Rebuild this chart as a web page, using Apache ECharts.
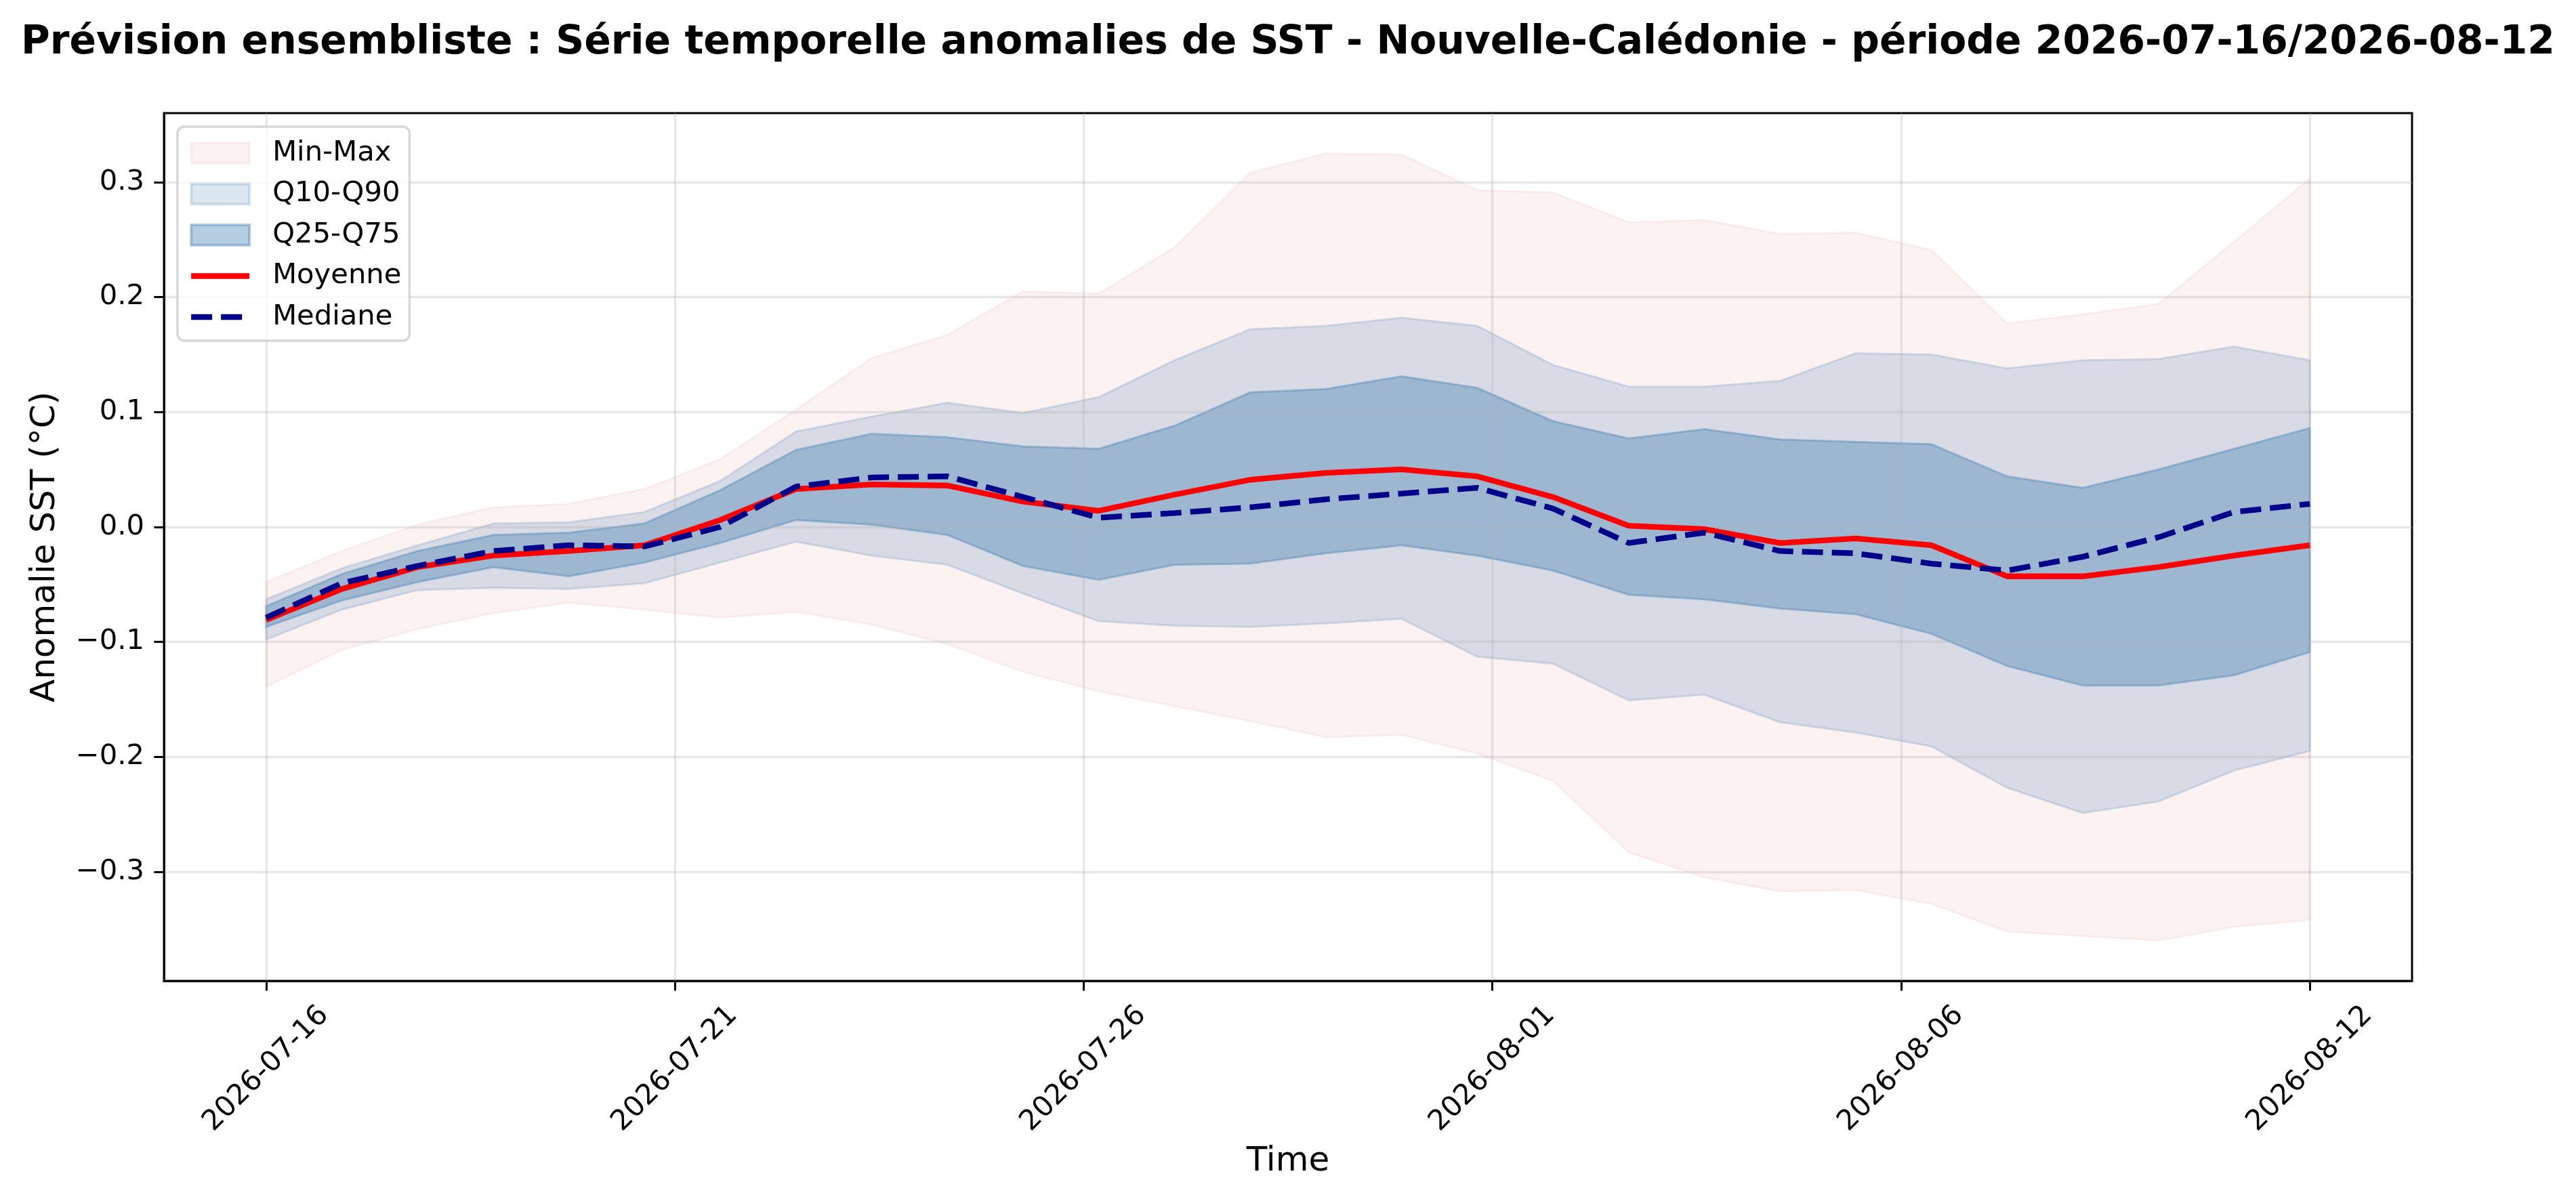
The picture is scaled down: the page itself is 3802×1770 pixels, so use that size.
<!DOCTYPE html>
<html lang="fr">
<head>
<meta charset="UTF-8">
<title>Prévision ensembliste SST</title>
<style>
  html, body { margin: 0; padding: 0; background: #fff; }
  #main { width: 3802px; height: 1770px; }
</style>
</head>
<body>
<div id="main"></div>
<script src="https://cdn.jsdelivr.net/npm/echarts@6/dist/echarts.min.js"></script>
<script>
// une valeur par jour, du 2026-07-16 (jour 0) au 2026-08-12 (jour 27)
var moyenne = [-0.081,-0.054,-0.035,-0.025,-0.021,-0.016,0.006,0.033,0.037,0.036,0.022,0.014,0.028,0.041,
  0.047,0.050,0.044,0.026,0.001,-0.002,-0.014,-0.010,-0.016,-0.043,-0.043,-0.035,-0.025,-0.016];
var mediane = [-0.079,-0.049,-0.034,-0.021,-0.016,-0.017,0.000,0.035,0.043,0.044,0.026,0.008,0.012,0.017,
  0.024,0.029,0.034,0.016,-0.014,-0.005,-0.021,-0.023,-0.032,-0.038,-0.026,-0.009,0.013,0.020];
var q25 = [-0.087,-0.064,-0.048,-0.035,-0.043,-0.031,-0.014,0.006,0.002,-0.007,-0.034,-0.046,-0.033,-0.032,
  -0.023,-0.016,-0.025,-0.038,-0.059,-0.063,-0.071,-0.076,-0.093,-0.121,-0.138,-0.138,-0.129,-0.109];
var q75 = [-0.069,-0.041,-0.021,-0.007,-0.005,0.003,0.032,0.067,0.081,0.078,0.070,0.068,0.088,0.117,
  0.120,0.131,0.121,0.092,0.077,0.085,0.076,0.074,0.072,0.044,0.034,0.050,0.068,0.086];
var q10 = [-0.098,-0.072,-0.055,-0.053,-0.054,-0.049,-0.031,-0.013,-0.025,-0.033,-0.058,-0.082,-0.086,-0.087,
  -0.084,-0.080,-0.113,-0.119,-0.151,-0.146,-0.170,-0.179,-0.191,-0.227,-0.249,-0.239,-0.212,-0.195];
var q90 = [-0.063,-0.036,-0.016,0.003,0.004,0.013,0.040,0.083,0.096,0.108,0.099,0.113,0.145,0.172,
  0.175,0.182,0.175,0.141,0.122,0.122,0.127,0.151,0.150,0.138,0.145,0.146,0.157,0.145];
var vmin = [-0.139,-0.107,-0.089,-0.075,-0.066,-0.072,-0.079,-0.074,-0.085,-0.102,-0.126,-0.143,-0.156,-0.169,
  -0.183,-0.181,-0.197,-0.221,-0.283,-0.305,-0.317,-0.316,-0.328,-0.352,-0.356,-0.360,-0.348,-0.342];
var vmax = [-0.048,-0.021,0.002,0.017,0.020,0.033,0.059,0.102,0.147,0.167,0.205,0.203,0.243,0.308,
  0.325,0.324,0.293,0.291,0.265,0.267,0.255,0.256,0.241,0.177,0.185,0.194,0.248,0.303];

// ticks répartis régulièrement entre premier et dernier jour (en jours)
var xTicks = [0, 5.4, 10.8, 16.2, 21.6, 27];
var xTickLabels = ['2026-07-16','2026-07-21','2026-07-26','2026-08-01','2026-08-06','2026-08-12'];
var yTicks = [-0.3,-0.2,-0.1,0.0,0.1,0.2,0.3];
var yTickLabels = ['\u22120.3','\u22120.2','\u22120.1','0.0','0.1','0.2','0.3'];

var nDays = moyenne.length;

function pairs(vals) {
  return vals.map(function (v, i) { return [i, v]; });
}
function pick(ticks, labels, v, eps) {
  for (var i = 0; i < ticks.length; i++) {
    if (Math.abs(ticks[i] - v) < eps) return labels[i];
  }
  return '';
}

var cMinMax = 'rgba(240,128,128,0.1)';
var cQ10 = 'rgba(70,130,180,0.2)';
var cQ25 = 'rgba(70,130,180,0.4)';
var font = 'DejaVu Sans';

// bande remplie entre lo et hi (un seul polygone, comme fill_between)
function band(name, lo, hi, col) {
  return {
    name: name, type: 'custom', z: 2, silent: true, clip: true,
    data: lo.map(function (v, i) { return [i, v, hi[i]]; }),
    encode: { x: 0, y: [1, 2] },
    itemStyle: { color: col },
    renderItem: function (params, api) {
      if (params.dataIndex !== 0) return null;
      var up = hi.map(function (v, i) { return api.coord([i, v]); });
      var dn = lo.map(function (v, i) { return api.coord([i, v]); }).reverse();
      return {
        type: 'polygon',
        shape: { points: up.concat(dn) },
        style: { fill: col, stroke: col, lineWidth: 3 }
      };
    }
  };
}

var chart = echarts.init(document.getElementById('main'), null, { renderer: 'canvas' });

var series = [
  band('Min-Max', vmin, vmax, cMinMax),
  band('Q10-Q90', q10, q90, cQ10),
  band('Q25-Q75', q25, q75, cQ25),
  {
    name: 'Moyenne', type: 'line', data: pairs(moyenne), symbol: 'none', z: 5,
    itemStyle: { color: '#ff0000' },
    lineStyle: { color: '#ff0000', width: 8.3 }
  }, {
    name: 'Mediane', type: 'line', data: pairs(mediane), symbol: 'none', z: 6,
    itemStyle: { color: '#00008b' },
    lineStyle: { color: '#00008b', width: 8.3, type: [31, 13] }
  }
];

var option = {
  animation: false,
  backgroundColor: '#ffffff',
  title: {
    text: 'Prévision ensembliste : Série temporelle anomalies de SST - Nouvelle-Calédonie - période 2026-07-16/2026-08-12',
    left: 'center', top: 30,
    textStyle: { fontFamily: font, fontSize: 58.3, fontWeight: 'bold', color: '#000' }
  },
  grid: {
    left: 242, top: 167, width: 3318, height: 1281,
    show: true, borderColor: '#000', borderWidth: 3, backgroundColor: 'transparent'
  },
  legend: {
    orient: 'vertical', left: 262, top: 187,
    padding: [18, 12, 14, 16],
    itemWidth: 86, itemHeight: 30, itemGap: 18.5,
    backgroundColor: 'rgba(255,255,255,0.8)',
    borderColor: 'rgba(204,204,204,0.8)', borderWidth: 3.3, borderRadius: 10,
    textStyle: { fontFamily: font, fontSize: 41.7, color: '#000', lineHeight: 30, padding: [0, 0, 0, 29] },
    data: [
      { name: 'Min-Max', icon: 'rect', itemStyle: { color: cMinMax, borderColor: cMinMax, borderWidth: 4 } },
      { name: 'Q10-Q90', icon: 'rect', itemStyle: { color: cQ10, borderColor: cQ10, borderWidth: 4 } },
      { name: 'Q25-Q75', icon: 'rect', itemStyle: { color: cQ25, borderColor: cQ25, borderWidth: 4 } },
      { name: 'Moyenne', itemStyle: { opacity: 0 }, lineStyle: { color: '#ff0000', width: 8.3 } },
      { name: 'Mediane', itemStyle: { opacity: 0 }, lineStyle: { color: '#00008b', width: 8.3, type: [31, 13] } }
    ]
  },
  xAxis: {
    type: 'value',
    min: -0.05 * (nDays - 1), max: 1.05 * (nDays - 1),
    z: 3,
    name: 'Time', nameLocation: 'middle', nameGap: 242,
    nameTextStyle: { fontFamily: font, fontSize: 50, color: '#000' },
    axisLine: { show: true, onZero: false, lineStyle: { color: '#000', width: 3 } },
    axisTick: { show: true, customValues: xTicks, length: 14.6, lineStyle: { color: '#000', width: 3 } },
    axisLabel: {
      customValues: xTicks, rotate: 45, align: 'center', verticalAlign: 'middle', margin: 130,
      fontFamily: font, fontSize: 41.7, color: '#000', hideOverlap: false,
      formatter: function (v) { return pick(xTicks, xTickLabels, v, 1e-6); }
    },
    splitLine: { show: true, lineStyle: { color: 'rgba(176,176,176,0.3)', width: 3.3 } }
  },
  yAxis: {
    type: 'value',
    min: -0.395, max: 0.36,
    z: 3,
    name: 'Anomalie SST (°C)', nameLocation: 'middle', nameGap: 150,
    nameTextStyle: { fontFamily: font, fontSize: 50, color: '#000' },
    axisLine: { show: true, onZero: false, lineStyle: { color: '#000', width: 3 } },
    axisTick: { show: true, customValues: yTicks, length: 14.6, lineStyle: { color: '#000', width: 3 } },
    axisLabel: {
      customValues: yTicks, margin: 29,
      fontFamily: font, fontSize: 41.7, color: '#000',
      formatter: function (v) { return pick(yTicks, yTickLabels, v, 1e-6); }
    },
    splitLine: { show: true, lineStyle: { color: 'rgba(176,176,176,0.3)', width: 3.3 } }
  },
  series: series
};

chart.setOption(option);
</script>
</body>
</html>
